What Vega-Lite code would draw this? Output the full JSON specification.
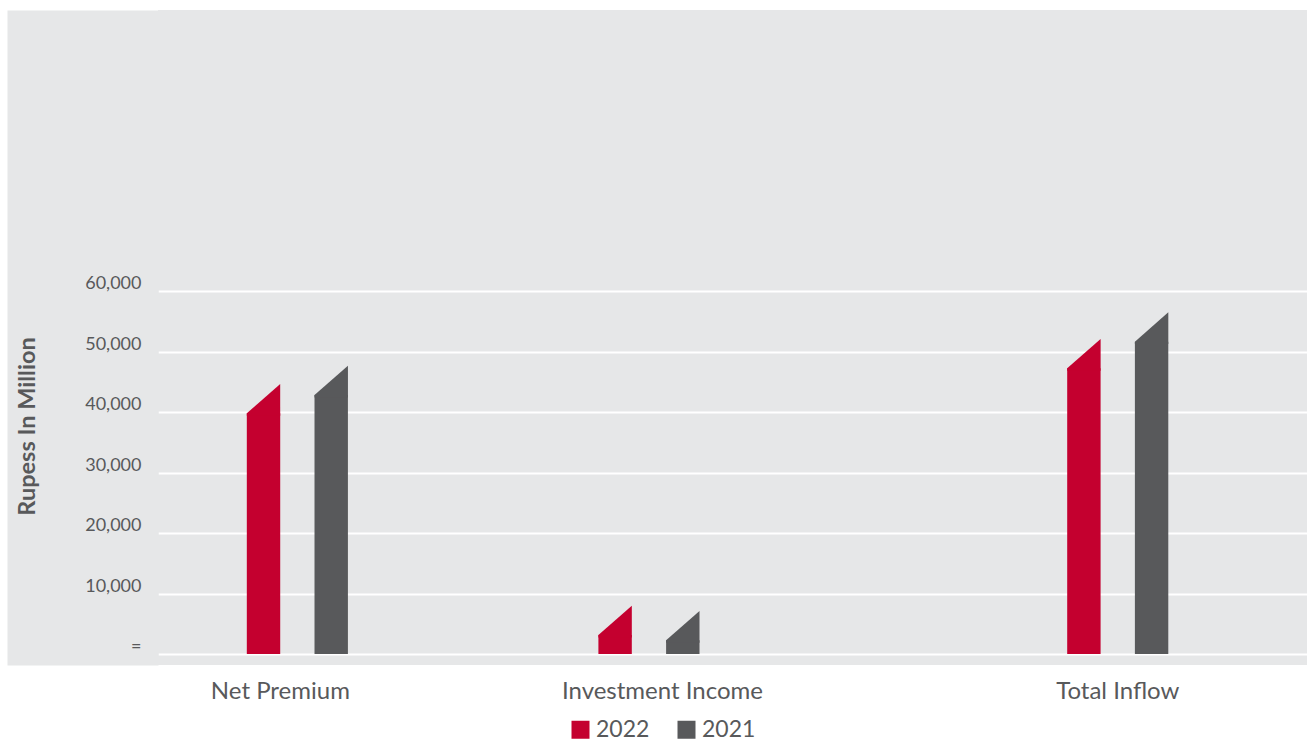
{
  "$schema": "https://vega.github.io/schema/vega-lite/v6.json",
  "width": 1149,
  "height": 655,
  "autosize": {"type": "none"},
  "padding": {"left": 158, "top": 10, "right": 0, "bottom": 75},
  "background": "#ffffff",
  "config": {"view": {"fill": "#e6e7e8", "stroke": null}, "font": "Lato"},
  "data": {
    "values": [
      {"category": "Net Premium", "year": "2022", "value": 44670},
      {"category": "Net Premium", "year": "2021", "value": 47690},
      {"category": "Investment Income", "year": "2022", "value": 7990},
      {"category": "Investment Income", "year": "2021", "value": 7110},
      {"category": "Total Inflow", "year": "2022", "value": 52110},
      {"category": "Total Inflow", "year": "2021", "value": 56520}
    ]
  },
  "resolve": {"axis": {"y": "independent"}},
  "encoding": {
    "x": {
      "field": "category",
      "type": "nominal",
      "scale": {
        "domain": ["Net Premium", " ", "  ", "Investment Income", "   ", "    ", "     ", "Total Inflow"],
        "paddingInner": 0,
        "paddingOuter": 0.902,
        "align": 0.382
      },
      "axis": {
        "title": null,
        "domain": false,
        "ticks": false,
        "grid": false,
        "labelFont": "Lato",
        "labelFontSize": 24,
        "labelColor": "#58595b",
        "labelPadding": 14,
        "labelAngle": 0,
        "labelLimit": 0,
        "labelBaseline": "top",
        "labelOffset": {
          "condition": [
            {"test": "datum.value === 'Net Premium'", "value": -17},
            {"test": "datum.value === 'Investment Income'", "value": 13.5}
          ],
          "value": 0
        }
      }
    },
    "xOffset": {
      "field": "year",
      "type": "nominal",
      "sort": ["2022", "2021"],
      "scale": {"range": [8.05, 109.15], "paddingInner": 0.5066, "paddingOuter": 0}
    },
    "color": {
      "field": "year",
      "type": "nominal",
      "scale": {"domain": ["2022", "2021"], "range": ["#c4002f", "#58595b"]},
      "legend": {
        "orient": "none",
        "legendX": 411,
        "legendY": 708,
        "direction": "horizontal",
        "title": null,
        "symbolType": "square",
        "symbolSize": 324,
        "symbolStrokeWidth": 0,
        "symbolOpacity": 1,
        "labelFont": "Lato",
        "labelFontSize": 23,
        "labelColor": "#58595b",
        "labelOffset": 4,
        "labelLimit": 0,
        "columnPadding": 25,
        "padding": 0,
        "encode": {
          "symbols": {
            "update": {
              "fill": {"signal": "datum.value === '2022' ? '#d31f44' : '#58595b'"}
            }
          }
        }
      }
    }
  },
  "layer": [
    {
      "mark": {"type": "bar", "yOffset": 29.3},
      "encoding": {
        "y": {
          "field": "value",
          "type": "quantitative",
          "scale": {"domain": [-1820, 106534], "nice": false},
          "axis": {
            "orient": "left",
            "title": null,
            "values": [0, 10000, 20000, 30000, 40000, 50000, 60000],
            "offset": 75.5,
            "domain": true,
            "domainColor": "#e6e7e8",
            "domainWidth": 151,
            "ticks": false,
            "labels": false,
            "grid": true,
            "gridColor": "#ffffff",
            "gridWidth": 2,
            "zindex": 0
          }
        },
        "y2": {"datum": 0}
      }
    },
    {
      "mark": {
        "type": "point",
        "shape": "M -1 1.754 L 1 0 L 1 1.9 L -1 1.9 Z",
        "size": 1115.6,
        "filled": true,
        "opacity": 1,
        "strokeWidth": 0
      },
      "encoding": {
        "y": {
          "field": "value",
          "type": "quantitative",
          "scale": {"domain": [-1820, 106534], "nice": false},
          "axis": {
            "orient": "left",
            "title": "Rupess In Million",
            "values": [0, 10000, 20000, 30000, 40000, 50000, 60000],
            "format": ",.0f",
            "labelExpr": "datum.value === 0 ? '=' : datum.label",
            "offset": 0,
            "domain": false,
            "ticks": false,
            "tickSize": 0,
            "grid": false,
            "labelPadding": 17,
            "labelOffset": -2.5,
            "labelBaseline": "alphabetic",
            "labelFont": "Lato",
            "labelFontSize": 18,
            "labelColor": "#58595b",
            "titleFont": "Lato",
            "titleFontSize": 23.5,
            "titleFontWeight": "bold",
            "titleColor": "#58595b",
            "titleAngle": -90,
            "titleX": -131,
            "titleY": 416,
            "titleAlign": "center",
            "titleBaseline": "middle",
            "zindex": 1
          }
        }
      }
    }
  ]
}
